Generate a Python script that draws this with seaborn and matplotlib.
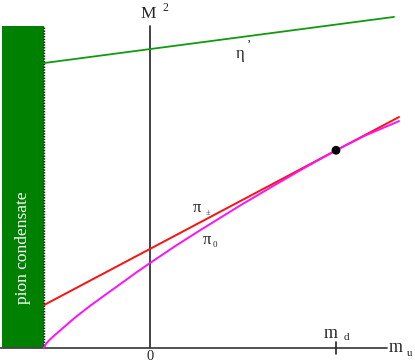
import numpy as np
import pandas as pd
import matplotlib
matplotlib.use('Agg')
import matplotlib.pyplot as plt
from matplotlib.patches import Rectangle
import seaborn as sns

# units: m_d = 1 on the m_u axis, same scale on M^2
x_cond = -0.570          # edge of the pion condensate region
m_d = 1.0

eta_x = [-0.570, 1.312]
eta_y = [1.532, 1.780]

pic_x = [-0.570, 1.339]
pic_y = [0.231, 1.242]

pi0_x = [-0.570, -0.559, -0.538, -0.484, -0.403, -0.323, -0.242, -0.161, -0.081,
         0.000, 0.134, 0.269, 0.484, 0.672, 0.833, 1.000, 1.156, 1.339]
pi0_y = [0.000, 0.023, 0.046, 0.094, 0.164, 0.226, 0.285, 0.343, 0.401,
         0.457, 0.547, 0.633, 0.766, 0.877, 0.970, 1.063, 1.142, 1.220]

dot_x = [1.000]
dot_y = [1.063]

sns.set_style('white')
plt.rcParams['font.family'] = ['Liberation Serif', 'DejaVu Serif']

W, H = 415, 363
S = 186.0
def px(x, y):
    return (x - 150) / S, (348 - y) / S

fig = plt.figure(figsize=(W / 100, H / 100), dpi=100)
ax = fig.add_axes([0, 0, 1, 1])
x0, y1 = px(0, 0)
x1, y0 = px(W, H)
ax.set_xlim(x0, x1)
ax.set_ylim(y0, y1)
ax.axis('off')

top = px(0, 26)[1]
left = px(2, 0)[0]
ax.add_patch(Rectangle((left, 0), x_cond - left, top, color='#008000', lw=0, zorder=1))
ax.plot([x_cond, x_cond], [0, top], color='black', lw=1, ls=(0, (1, 1)), zorder=2)

# axes
ax.plot([0, 0], [0, top], color='#222222', lw=1.2, zorder=2)
ax.plot([px(0, 0)[0], px(387, 0)[0]], [0, 0], color='#444444', lw=1.3, zorder=2)
ax.plot([m_d, m_d], [-0.03, 0.03], color='#222222', lw=1.2, zorder=2)

sns.lineplot(x=eta_x, y=eta_y, ax=ax, color='#109a10', lw=1.3, zorder=3)
sns.lineplot(x=pic_x, y=pic_y, ax=ax, color='#ff1010', lw=1.4, zorder=3)
sns.lineplot(x=pi0_x, y=pi0_y, ax=ax, color='#ff10ff', lw=1.4, sort=False, zorder=4)
sns.scatterplot(x=dot_x, y=dot_y, ax=ax, color='black', s=40, edgecolor='none', zorder=5)

def txt(x, y, s, size, **kw):
    xx, yy = px(x, y)
    ax.text(xx, yy, s, fontsize=size, ha='center', va='center', **kw)

txt(148, 14, 'M', 12.5)
txt(165, 8, '2', 8.5)
txt(240, 54, 'η', 12)
txt(249, 45, '’', 9)
txt(197, 208, 'π', 12)
txt(208, 213, '±', 6)
txt(207, 240, 'π', 12)
txt(215, 245, '0', 6.5)
txt(331, 333, 'm', 13)
txt(346, 338, 'd', 8)
txt(396, 347, 'm', 13)
txt(410, 354, 'u', 8)
txt(150, 357, '0', 10.5)
txt(23, 248, 'pion condensate', 12.5, rotation=90, color='white')

fig.savefig('out.png', dpi=100)
